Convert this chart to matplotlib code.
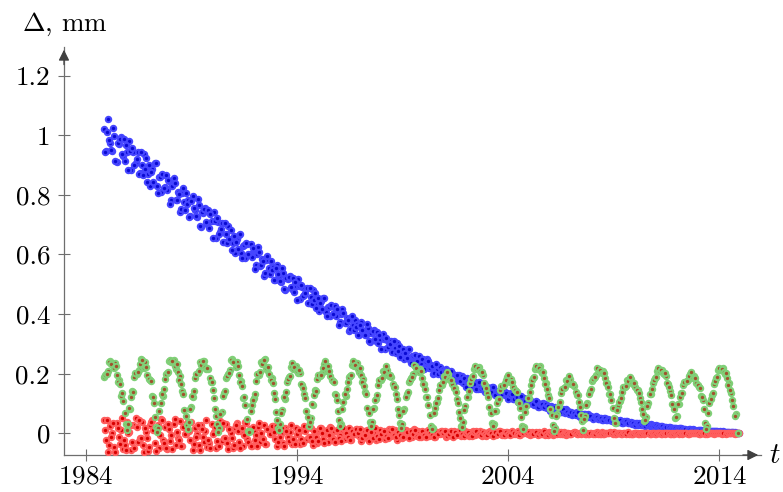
import numpy as np
import matplotlib
matplotlib.use("Agg")
import matplotlib.pyplot as plt

# fonts: Computer Modern look
plt.rcParams['font.family'] = 'cmr10'
plt.rcParams['mathtext.fontset'] = 'cm'
plt.rcParams['axes.formatter.use_mathtext'] = True

# ----- data -----
# each series is sampled on two interleaved time grids (a and b)

# blue series, grid a: 1984.85 .. 2014.95, one row per year
blue_a = [
    1.02, 0.947, 1.055, 0.975, 0.948, 0.998, 0.91, 0.972, 0.994, 0.929,
    0.915, 0.945, 0.979, 0.884, 0.943, 0.908, 0.942, 0.872, 0.901, 0.936,
    0.925, 0.869, 0.828, 0.887, 0.906, 0.83, 0.859, 0.808, 0.867, 0.826,
    0.815, 0.848, 0.784, 0.855, 0.782, 0.809, 0.741, 0.807, 0.777, 0.805,
    0.783, 0.728, 0.795, 0.749, 0.725, 0.765, 0.692, 0.74, 0.757, 0.702,
    0.688, 0.713, 0.743, 0.656, 0.709, 0.676, 0.706, 0.641, 0.667, 0.697,
    0.682, 0.637, 0.604, 0.651, 0.666, 0.605, 0.628, 0.587, 0.634, 0.601,
    0.592, 0.619, 0.565, 0.624, 0.562, 0.585, 0.527, 0.582, 0.556, 0.579,
    0.559, 0.515, 0.566, 0.529, 0.509, 0.539, 0.481, 0.517, 0.529, 0.485,
    0.473, 0.493, 0.516, 0.449, 0.49, 0.464, 0.488, 0.438, 0.458, 0.481,
    0.469, 0.435, 0.409, 0.444, 0.454, 0.408, 0.424, 0.393, 0.427, 0.402,
    0.394, 0.414, 0.373, 0.417, 0.37, 0.387, 0.343, 0.384, 0.364, 0.381,
    0.366, 0.331, 0.372, 0.343, 0.328, 0.352, 0.306, 0.335, 0.345, 0.311,
    0.303, 0.316, 0.332, 0.283, 0.312, 0.293, 0.309, 0.272, 0.286, 0.302,
    0.293, 0.267, 0.248, 0.274, 0.281, 0.247, 0.258, 0.235, 0.26, 0.241,
    0.236, 0.249, 0.221, 0.25, 0.218, 0.229, 0.199, 0.226, 0.212, 0.223,
    0.212, 0.189, 0.215, 0.196, 0.186, 0.202, 0.172, 0.19, 0.196, 0.174,
    0.168, 0.177, 0.187, 0.156, 0.174, 0.162, 0.173, 0.149, 0.159, 0.168,
    0.163, 0.147, 0.135, 0.151, 0.156, 0.134, 0.142, 0.127, 0.142, 0.131,
    0.128, 0.135, 0.119, 0.135, 0.116, 0.123, 0.105, 0.121, 0.112, 0.118,
    0.112, 0.099, 0.113, 0.102, 0.096, 0.104, 0.087, 0.097, 0.1, 0.087,
    0.084, 0.088, 0.093, 0.076, 0.085, 0.078, 0.083, 0.07, 0.075, 0.08,
    0.076, 0.067, 0.06, 0.069, 0.071, 0.059, 0.064, 0.054, 0.064, 0.056,
    0.055, 0.059, 0.05, 0.058, 0.049, 0.052, 0.043, 0.051, 0.046, 0.049,
    0.046, 0.04, 0.047, 0.041, 0.038, 0.042, 0.034, 0.039, 0.04, 0.034,
    0.032, 0.034, 0.036, 0.028, 0.032, 0.029, 0.032, 0.026, 0.027, 0.03,
    0.027, 0.023, 0.02, 0.024, 0.025, 0.019, 0.021, 0.017, 0.021, 0.018,
    0.017, 0.017, 0.015, 0.017, 0.014, 0.015, 0.011, 0.014, 0.012, 0.013,
    0.012, 0.009, 0.012, 0.01, 0.008, 0.01, 0.007, 0.008, 0.009, 0.006,
    0.006, 0.005, 0.006, 0.005, 0.004, 0.005, 0.003, 0.004, 0.004, 0.003,
    0.002, 0.001,
]

# blue series, grid b: 1984.90 .. 2014.90
blue_b = [
    0.944, 1.01, 0.983, 0.951, 1.023, 0.913, 0.974, 0.986, 0.937, 0.987,
    0.967, 0.882, 0.946, 0.956, 0.90, 0.92, 0.869, 0.944, 0.868, 0.888,
    0.842, 0.901, 0.875, 0.844, 0.908, 0.807, 0.861, 0.87, 0.824, 0.868,
    0.851, 0.768, 0.829, 0.838, 0.784, 0.802, 0.752, 0.823, 0.75, 0.768,
    0.726, 0.78, 0.756, 0.728, 0.785, 0.695, 0.743, 0.751, 0.709, 0.749,
    0.734, 0.656, 0.713, 0.721, 0.67, 0.686, 0.64, 0.706, 0.637, 0.653,
    0.616, 0.663, 0.642, 0.617, 0.668, 0.587, 0.630, 0.637, 0.600, 0.635,
    0.621, 0.552, 0.602, 0.609, 0.563, 0.578, 0.536, 0.595, 0.533, 0.548,
    0.514, 0.555, 0.535, 0.512, 0.555, 0.484, 0.52, 0.525, 0.491, 0.521,
    0.509, 0.448, 0.493, 0.499, 0.46, 0.472, 0.437, 0.488, 0.435, 0.447,
    0.419, 0.453, 0.437, 0.417, 0.455, 0.393, 0.425, 0.429, 0.401, 0.426,
    0.416, 0.363, 0.401, 0.405, 0.371, 0.381, 0.35, 0.393, 0.347, 0.357,
    0.331, 0.363, 0.348, 0.33, 0.365, 0.308, 0.337, 0.342, 0.315, 0.339,
    0.328, 0.284, 0.315, 0.319, 0.29, 0.298, 0.272, 0.308, 0.269, 0.277,
    0.255, 0.281, 0.268, 0.254, 0.281, 0.236, 0.259, 0.262, 0.241, 0.26,
    0.25, 0.215, 0.239, 0.242, 0.218, 0.225, 0.203, 0.232, 0.2, 0.207,
    0.19, 0.21, 0.2, 0.188, 0.21, 0.173, 0.191, 0.194, 0.176, 0.191,
    0.185, 0.156, 0.176, 0.179, 0.16, 0.166, 0.149, 0.172, 0.148, 0.153,
    0.14, 0.156, 0.147, 0.138, 0.156, 0.127, 0.142, 0.143, 0.13, 0.142,
    0.136, 0.115, 0.129, 0.13, 0.116, 0.12, 0.108, 0.124, 0.105, 0.109,
    0.099, 0.11, 0.104, 0.097, 0.109, 0.088, 0.098, 0.099, 0.089, 0.097,
    0.092, 0.076, 0.087, 0.088, 0.077, 0.08, 0.07, 0.083, 0.068, 0.071,
    0.063, 0.072, 0.067, 0.062, 0.072, 0.055, 0.063, 0.064, 0.056, 0.063,
    0.059, 0.048, 0.055, 0.056, 0.049, 0.05, 0.044, 0.052, 0.043, 0.045,
    0.04, 0.046, 0.043, 0.039, 0.045, 0.035, 0.04, 0.04, 0.035, 0.039,
    0.036, 0.029, 0.034, 0.034, 0.029, 0.03, 0.025, 0.031, 0.024, 0.025,
    0.023, 0.026, 0.023, 0.021, 0.024, 0.018, 0.021, 0.021, 0.017, 0.019,
    0.018, 0.014, 0.017, 0.016, 0.013, 0.014, 0.012, 0.015, 0.011, 0.011,
    0.009, 0.011, 0.01, 0.008, 0.011, 0.006, 0.009, 0.008, 0.007, 0.008,
    0.007, 0.004, 0.005, 0.006, 0.004, 0.004, 0.002, 0.004, 0.002, 0.002,
    0.001,
]

# red series, grid a
red_a = [
    0.046, -0.023, -0.064, 0.023, 0.0, -0.047, 0.035, -0.012, 0.011, -0.052,
    -0.040, 0.039, 0.005, -0.056, 0.028, 0.050, -0.028, -0.017, 0.039, -0.062,
    0.005, -0.061, 0.027, 0.044, -0.034, 0.011, -0.05, 0.049, -0.023, 0.022,
    -0.054, 0.015, -0.006, 0.031, -0.038, -0.017, 0.042, -0.043, 0.021, -0.001,
    0.039, -0.021, -0.056, 0.019, -0.001, -0.041, 0.029, -0.011, 0.009, -0.046,
    -0.034, 0.032, 0.003, -0.048, 0.022, 0.041, -0.025, -0.015, 0.032, -0.053,
    0.002, -0.051, 0.019, 0.033, -0.029, 0.006, -0.042, 0.037, -0.020, 0.015,
    -0.043, 0.009, -0.007, 0.021, -0.031, -0.015, 0.029, -0.035, 0.013, -0.003,
    0.025, -0.018, -0.043, 0.011, -0.003, -0.032, 0.018, -0.011, 0.004, -0.036,
    -0.026, 0.019, -0.001, -0.036, 0.012, 0.025, -0.020, -0.013, 0.019, -0.039,
    0.0, -0.034, 0.011, 0.019, -0.020, 0.002, -0.028, 0.022, -0.014, 0.008,
    -0.027, 0.005, -0.005, 0.012, -0.019, -0.010, 0.017, -0.022, 0.007, -0.003,
    0.015, -0.010, -0.025, 0.007, -0.002, -0.019, 0.011, -0.006, 0.002, -0.021,
    -0.014, 0.011, 0.001, -0.019, 0.008, 0.015, -0.010, -0.007, 0.011, -0.021,
    0.001, -0.017, 0.007, 0.012, -0.010, 0.003, -0.014, 0.013, -0.007, 0.006,
    -0.014, 0.003, -0.002, 0.007, -0.010, -0.005, 0.010, -0.011, 0.005, -0.001,
    0.009, -0.004, -0.012, 0.005, 0.0, -0.009, 0.007, -0.002, 0.002, -0.010,
    -0.006, 0.006, 0.001, -0.009, 0.004, 0.008, -0.005, -0.003, 0.006, -0.010,
    0.001, -0.009, 0.004, 0.006, -0.005, 0.001, -0.007, 0.007, -0.003, 0.003,
    -0.006, 0.003, 0.0, 0.005, -0.004, -0.001, 0.006, -0.005, 0.004, 0.001,
    0.005, -0.002, -0.006, 0.003, 0.001, -0.004, 0.004, -0.001, 0.002, -0.005,
    -0.003, 0.004, 0.001, -0.005, 0.003, 0.005, -0.002, -0.001, 0.004, -0.005,
    0.001, -0.004, 0.002, 0.004, -0.002, 0.001, -0.003, 0.004, -0.001, 0.002,
    -0.003, 0.001, 0.0, 0.002, -0.002, -0.001, 0.003, -0.002, 0.002, 0.0,
    0.003, -0.001, -0.003, 0.002, 0.0, -0.002, 0.002, 0.0, 0.001, -0.002,
    -0.001, 0.002, 0.0, -0.002, 0.001, 0.002, -0.001, 0.0, 0.002, -0.002,
    0.0, -0.002, 0.001, 0.002, -0.001, 0.001, -0.002, 0.002, -0.001, 0.001,
    -0.001, 0.0, 0.0, 0.001, -0.001, 0.0, 0.001, -0.001, 0.0, 0.0,
    0.001, 0.0, -0.001, 0.0, 0.0, -0.001, 0.001, 0.0, 0.0, -0.001,
    0.0, 0.001, 0.0, -0.001, 0.0, 0.001, 0.0, 0.0, 0.001, -0.001,
    0.0, 0.0,
]

# red series, grid b
red_b = [
    0.011, 0.046, -0.041, -0.012, 0.035, -0.064, 0.017, -0.035, 0.052, -0.023,
    -0.056, 0.0, 0.028, -0.028, -0.051, 0.022, 0.044, -0.017, -0.040, 0.016,
    -0.017, -0.045, 0.038, 0.011, -0.061, 0.027, -0.006, 0.044, -0.034, -0.05,
    0.031, -0.027, -0.054, 0.047, 0.005, -0.022, -0.043, 0.021, -0.001, 0.036,
    0.009, 0.039, -0.036, -0.011, 0.029, -0.056, 0.014, -0.031, 0.044, -0.021,
    -0.048, -0.001, 0.022, -0.025, -0.044, 0.018, 0.036, -0.015, -0.034, 0.013,
    -0.016, -0.038, 0.028, 0.006, -0.051, 0.019, -0.007, 0.033, -0.029, -0.042,
    0.021, -0.023, -0.043, 0.033, 0.001, -0.019, -0.035, 0.013, -0.003, 0.025,
    0.004, 0.025, -0.029, -0.011, 0.018, -0.043, 0.007, -0.025, 0.029, -0.018,
    -0.036, -0.004, 0.012, -0.020, -0.033, 0.009, 0.022, -0.013, -0.026, 0.006,
    -0.012, -0.026, 0.016, 0.002, -0.034, 0.011, -0.006, 0.019, -0.02, -0.028,
    0.012, -0.015, -0.027, 0.019, 0.0, -0.012, -0.022, 0.007, -0.003, 0.014,
    0.002, 0.015, -0.017, -0.006, 0.011, -0.025, 0.004, -0.015, 0.017, -0.010,
    -0.019, -0.001, 0.008, -0.010, -0.017, 0.006, 0.013, -0.007, -0.014, 0.004,
    -0.005, -0.013, 0.010, 0.003, -0.017, 0.007, -0.002, 0.012, -0.010, -0.014,
    0.007, -0.007, -0.014, 0.011, 0.001, -0.006, -0.011, 0.005, -0.001, 0.008,
    0.002, 0.009, -0.008, -0.002, 0.007, -0.012, 0.003, -0.007, 0.010, -0.004,
    -0.009, 0.0, 0.004, -0.005, -0.008, 0.004, 0.007, -0.003, -0.006, 0.003,
    -0.003, -0.007, 0.005, 0.001, -0.009, 0.004, -0.001, 0.006, -0.005, -0.007,
    0.005, -0.003, -0.006, 0.007, 0.001, -0.002, -0.005, 0.004, 0.001, 0.006,
    0.002, 0.005, -0.004, -0.001, 0.004, -0.006, 0.002, -0.003, 0.006, -0.002,
    -0.005, 0.001, 0.003, -0.002, -0.004, 0.003, 0.005, -0.001, -0.003, 0.002,
    -0.001, -0.003, 0.003, 0.001, -0.004, 0.002, 0.0, 0.004, -0.002, -0.003,
    0.002, -0.001, -0.003, 0.003, 0.001, -0.001, -0.002, 0.002, 0.0, 0.002,
    0.001, 0.003, -0.002, 0.0, 0.002, -0.003, 0.001, -0.002, 0.003, -0.001,
    -0.002, 0.0, 0.001, -0.001, -0.002, 0.001, 0.002, 0.0, -0.001, 0.001,
    0.0, -0.001, 0.002, 0.001, -0.002, 0.001, 0.0, 0.002, -0.001, -0.002,
    0.001, 0.0, -0.001, 0.001, 0.0, 0.0, -0.001, 0.001, 0.0, 0.001,
    0.0, 0.001, -0.001, 0.0, 0.001, -0.001, 0.0, 0.0, 0.001, 0.0,
    0.0, 0.0, 0.001, 0.0, -0.001, 0.0, 0.001, 0.0, 0.0, 0.0,
    0.0,
]

# green series, grid a: 1984.85 .. 2014.88, one row per oscillation
green_a = [
    0.189, 0.198, 0.209, 0.243, 0.229, 0.236, 0.195, 0.178, 0.126, 0.108, 0.030,
    0.032, 0.081, 0.141, 0.189, 0.200, 0.213, 0.248, 0.234, 0.240, 0.197, 0.179, 0.124, 0.103, 0.022,
    0.018, 0.102, 0.124, 0.181, 0.201, 0.244, 0.240, 0.246, 0.217, 0.204, 0.192, 0.142, 0.079, 0.029,
    0.039, 0.087, 0.122, 0.185, 0.202, 0.240, 0.230, 0.242, 0.215, 0.217, 0.173, 0.145, 0.081, 0.030,
    0.019, 0.071, 0.135, 0.185, 0.198, 0.212, 0.248, 0.235, 0.239, 0.195, 0.174, 0.117, 0.094, 0.008,
    0.008, 0.094, 0.117, 0.174, 0.195, 0.239, 0.235, 0.248, 0.212, 0.198, 0.185, 0.135, 0.071, 0.019,
    0.030, 0.079, 0.115, 0.171, 0.189, 0.223, 0.217, 0.226, 0.202, 0.201, 0.162, 0.133, 0.074, 0.023,
    0.051, 0.094, 0.145, 0.183, 0.193, 0.203, 0.231, 0.220, 0.225, 0.191, 0.174, 0.130, 0.112, 0.043,
    0.030, 0.104, 0.125, 0.173, 0.192, 0.229, 0.225, 0.236, 0.207, 0.194, 0.182, 0.140, 0.086, 0.038,
    0.039, 0.085, 0.116, 0.163, 0.180, 0.208, 0.203, 0.211, 0.191, 0.190, 0.155, 0.131, 0.081, 0.033,
    0.032, 0.081, 0.132, 0.172, 0.186, 0.199, 0.225, 0.216, 0.217, 0.184, 0.165, 0.120, 0.096, 0.025,
    0.018, 0.084, 0.106, 0.146, 0.163, 0.191, 0.192, 0.199, 0.177, 0.165, 0.151, 0.115, 0.072, 0.024,
    0.038, 0.090, 0.123, 0.169, 0.189, 0.215, 0.214, 0.221, 0.202, 0.197, 0.162, 0.135, 0.087, 0.033,
    0.030, 0.074, 0.114, 0.146, 0.158, 0.168, 0.189, 0.182, 0.182, 0.156, 0.141, 0.105, 0.086, 0.024,
    0.020, 0.092, 0.119, 0.163, 0.184, 0.215, 0.217, 0.224, 0.201, 0.186, 0.168, 0.128, 0.080, 0.026,
    0.016, 0.063, 0.092, 0.135, 0.152, 0.177, 0.174, 0.181, 0.164, 0.160, 0.128, 0.104, 0.060, 0.011,
    0.057, 0.101, 0.141, 0.174, 0.186, 0.196, 0.217, 0.210, 0.210, 0.184, 0.169, 0.132, 0.113, 0.051,
    0.035, 0.091, 0.109, 0.140, 0.155, 0.178, 0.177, 0.183, 0.165, 0.156, 0.145, 0.117, 0.080, 0.040,
    0.054, 0.101, 0.130, 0.169, 0.186, 0.210, 0.208, 0.213, 0.198, 0.193, 0.164, 0.141, 0.098, 0.050,
    0.059, 0.099, 0.134, 0.161, 0.171, 0.180, 0.198, 0.192, 0.193, 0.170, 0.156, 0.126, 0.110, 0.034,
    0.025, 0.103, 0.127, 0.165, 0.184, 0.211, 0.212, 0.218, 0.198, 0.185, 0.170, 0.135, 0.092, 0.064,
    0.0,
]

# green series, grid b: 1984.90 .. 2014.73
green_b = [
    0.194, 0.199, 0.240, 0.233, 0.218, 0.225, 0.172, 0.164, 0.135, 0.068,
    0.012, 0.085, 0.121, 0.139, 0.202, 0.206, 0.233, 0.245, 0.219, 0.222, 0.182, 0.175, 0.123, 0.055,
    0.005, 0.074, 0.133, 0.148, 0.199, 0.206, 0.245, 0.243, 0.227, 0.232, 0.177, 0.164, 0.131, 0.058,
    0.015, 0.080, 0.126, 0.142, 0.199, 0.210, 0.230, 0.242, 0.222, 0.219, 0.186, 0.171, 0.119, 0.058,
    0.003, 0.065, 0.125, 0.141, 0.193, 0.201, 0.245, 0.238, 0.222, 0.227, 0.171, 0.157, 0.123, 0.049,
    0.004, 0.073, 0.113, 0.133, 0.199, 0.205, 0.232, 0.245, 0.218, 0.221, 0.179, 0.169, 0.115, 0.043,
    0.010, 0.068, 0.120, 0.138, 0.182, 0.191, 0.236, 0.223, 0.210, 0.212, 0.165, 0.151, 0.119, 0.056,
    0.039, 0.098, 0.128, 0.143, 0.194, 0.197, 0.219, 0.241, 0.208, 0.210, 0.178, 0.171, 0.129, 0.074,
    0.025, 0.081, 0.131, 0.147, 0.189, 0.197, 0.241, 0.228, 0.215, 0.218, 0.172, 0.160, 0.130, 0.069,
    0.024, 0.081, 0.112, 0.129, 0.178, 0.184, 0.205, 0.224, 0.195, 0.195, 0.164, 0.155, 0.114, 0.060,
    0.018, 0.074, 0.123, 0.139, 0.180, 0.190, 0.229, 0.219, 0.207, 0.208, 0.164, 0.150, 0.121, 0.062,
    0.015, 0.069, 0.100, 0.118, 0.163, 0.171, 0.190, 0.207, 0.181, 0.180, 0.151, 0.140, 0.101, 0.051,
    0.022, 0.077, 0.123, 0.142, 0.181, 0.191, 0.227, 0.219, 0.208, 0.207, 0.168, 0.152, 0.122, 0.067,
    0.023, 0.073, 0.100, 0.115, 0.157, 0.162, 0.180, 0.197, 0.171, 0.171, 0.145, 0.137, 0.101, 0.055,
    0.014, 0.070, 0.118, 0.139, 0.178, 0.190, 0.227, 0.219, 0.208, 0.206, 0.165, 0.149, 0.117, 0.060,
    0.008, 0.058, 0.088, 0.105, 0.149, 0.156, 0.175, 0.192, 0.166, 0.165, 0.137, 0.127, 0.089, 0.040,
    0.048, 0.094, 0.133, 0.148, 0.181, 0.189, 0.219, 0.212, 0.203, 0.202, 0.170, 0.156, 0.132, 0.086,
    0.036, 0.079, 0.104, 0.118, 0.154, 0.160, 0.176, 0.190, 0.169, 0.168, 0.144, 0.136, 0.105, 0.064,
    0.043, 0.090, 0.130, 0.147, 0.179, 0.189, 0.219, 0.212, 0.203, 0.202, 0.168, 0.155, 0.129, 0.082,
    0.056, 0.098, 0.122, 0.135, 0.171, 0.176, 0.191, 0.205, 0.184, 0.184, 0.161, 0.153, 0.123, 0.083,
    0.015, 0.067, 0.114, 0.136, 0.174, 0.188, 0.220, 0.214, 0.204, 0.201, 0.163, 0.144, 0.113, 0.059,
]

x_ticks = [1984, 1994, 2004, 2014]
y_ticks = [0, 0.2, 0.4, 0.6, 0.8, 1.0, 1.2]
y_tick_labels = ['0', '0.2', '0.4', '0.6', '0.8', '1', '1.2']

t_blue_a = np.linspace(1984.85, 2014.95, len(blue_a))
t_blue_b = np.linspace(1984.90, 2014.90, len(blue_b))
t_red_a = np.linspace(1984.85, 2014.95, len(red_a))
t_red_b = np.linspace(1984.90, 2014.90, len(red_b))
t_green_a = np.linspace(1984.85, 2014.88, len(green_a))
t_green_b = np.linspace(1984.90, 2014.73, len(green_b))

# ----- figure -----
fig = plt.figure(figsize=(7.83, 4.92), dpi=100)
ax = fig.add_axes([0.0817, 0.0752, 0.8902, 0.8293])

axis_col = '#6e6e6e'
ms = 3.9
mew = 1.45


def dots(t, v, face, edge, z):
    ax.plot(t, v, 'o', ms=ms, mfc=face, mec=edge, mew=mew, zorder=z)


dots(t_blue_a, blue_a, '#0a0ad2', '#4646ff', 3)
dots(t_blue_b, blue_b, '#0a0ad2', '#4646ff', 3)
dots(t_red_a, red_a, '#d80000', '#ff5e5e', 4)
dots(t_red_b, red_b, '#d80000', '#ff5e5e', 4)
dots(t_green_a, green_a, '#a0522d', '#80d078', 5)
dots(t_green_b, green_b, '#a0522d', '#80d078', 5)

ax.set_xlim(1982.96, 2015.98)
ax.set_ylim(-0.073, 1.296)

ax.set_xticks(x_ticks)
ax.set_yticks(y_ticks)
ax.set_yticklabels(y_tick_labels)
ax.tick_params(direction='inout', length=8, width=0.8, color=axis_col,
               labelsize=19.5, labelcolor='black')
ax.tick_params(axis='y', pad=6)
ax.tick_params(axis='x', pad=3)

for s in ['top', 'right']:
    ax.spines[s].set_visible(False)
for s in ['left', 'bottom']:
    ax.spines[s].set_color(axis_col)
    ax.spines[s].set_linewidth(0.9)

# arrow heads on the axes
arrow = dict(arrowstyle='-|>', color='#404040', lw=0.9, mutation_scale=16)
ax.annotate('', xy=(0, 1), xytext=(0, 0.95), xycoords='axes fraction',
            arrowprops=arrow, annotation_clip=False)
ax.annotate('', xy=(1, 0), xytext=(0.97, 0), xycoords='axes fraction',
            arrowprops=arrow, annotation_clip=False)

fig.text(0.028, 0.937, r'$\Delta$, mm', fontsize=19.5, va='baseline')
fig.text(0.989, 0.073, r'$t$', fontsize=21, ha='center', va='center')

plt.savefig('out.png', dpi=100)
